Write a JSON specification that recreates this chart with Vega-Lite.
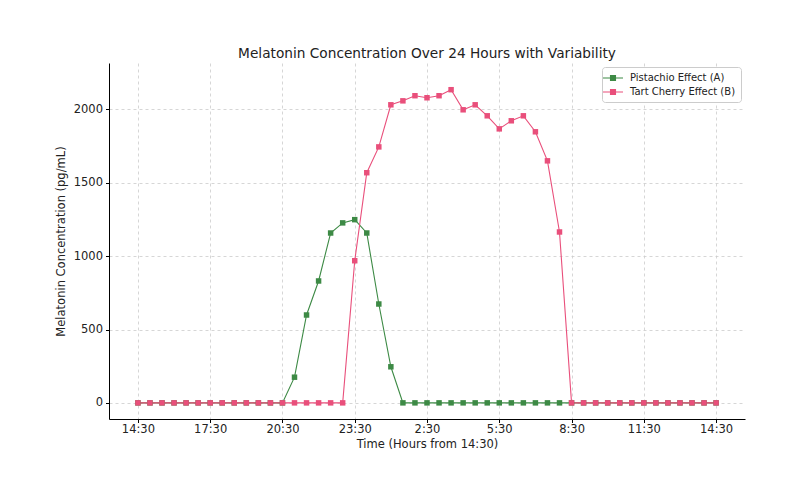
{
  "$schema": "https://vega.github.io/schema/vega-lite/v6.json",
  "autosize": {"type": "none"},
  "padding": {"left": 109, "top": 63, "right": 64, "bottom": 59},
  "width": 636,
  "height": 356,
  "background": "white",
  "config": {
    "font": "DejaVu Sans",
    "view": {"stroke": null},
    "axis": {
      "domainColor": "#000000",
      "domainWidth": 1,
      "tickColor": "#000000",
      "tickSize": 3.5,
      "labelFontSize": 11.5,
      "labelColor": "#222222",
      "titleFontSize": 11.5,
      "titleFontWeight": "normal",
      "titleColor": "#222222",
      "gridColor": "#cccccc",
      "gridDash": [3, 3],
      "gridWidth": 0.8
    }
  },
  "title": {
    "text": "Melatonin Concentration Over 24 Hours with Variability",
    "fontSize": 13.7,
    "fontWeight": "normal",
    "color": "#222222",
    "offset": 2,
    "anchor": "middle"
  },
  "data": {
    "values": [
      {"h": 0, "series": "Pistachio Effect (A)", "value": 0},
      {"h": 0.5, "series": "Pistachio Effect (A)", "value": 0},
      {"h": 1, "series": "Pistachio Effect (A)", "value": 0},
      {"h": 1.5, "series": "Pistachio Effect (A)", "value": 0},
      {"h": 2, "series": "Pistachio Effect (A)", "value": 0},
      {"h": 2.5, "series": "Pistachio Effect (A)", "value": 0},
      {"h": 3, "series": "Pistachio Effect (A)", "value": 0},
      {"h": 3.5, "series": "Pistachio Effect (A)", "value": 0},
      {"h": 4, "series": "Pistachio Effect (A)", "value": 0},
      {"h": 4.5, "series": "Pistachio Effect (A)", "value": 0},
      {"h": 5, "series": "Pistachio Effect (A)", "value": 0},
      {"h": 5.5, "series": "Pistachio Effect (A)", "value": 0},
      {"h": 6, "series": "Pistachio Effect (A)", "value": 0},
      {"h": 6.5, "series": "Pistachio Effect (A)", "value": 175},
      {"h": 7, "series": "Pistachio Effect (A)", "value": 599},
      {"h": 7.5, "series": "Pistachio Effect (A)", "value": 831},
      {"h": 8, "series": "Pistachio Effect (A)", "value": 1158},
      {"h": 8.5, "series": "Pistachio Effect (A)", "value": 1227},
      {"h": 9, "series": "Pistachio Effect (A)", "value": 1249},
      {"h": 9.5, "series": "Pistachio Effect (A)", "value": 1158},
      {"h": 10, "series": "Pistachio Effect (A)", "value": 674},
      {"h": 10.5, "series": "Pistachio Effect (A)", "value": 246},
      {"h": 11, "series": "Pistachio Effect (A)", "value": 0},
      {"h": 11.5, "series": "Pistachio Effect (A)", "value": 0},
      {"h": 12, "series": "Pistachio Effect (A)", "value": 0},
      {"h": 12.5, "series": "Pistachio Effect (A)", "value": 0},
      {"h": 13, "series": "Pistachio Effect (A)", "value": 0},
      {"h": 13.5, "series": "Pistachio Effect (A)", "value": 0},
      {"h": 14, "series": "Pistachio Effect (A)", "value": 0},
      {"h": 14.5, "series": "Pistachio Effect (A)", "value": 0},
      {"h": 15, "series": "Pistachio Effect (A)", "value": 0},
      {"h": 15.5, "series": "Pistachio Effect (A)", "value": 0},
      {"h": 16, "series": "Pistachio Effect (A)", "value": 0},
      {"h": 16.5, "series": "Pistachio Effect (A)", "value": 0},
      {"h": 17, "series": "Pistachio Effect (A)", "value": 0},
      {"h": 17.5, "series": "Pistachio Effect (A)", "value": 0},
      {"h": 18, "series": "Pistachio Effect (A)", "value": 0},
      {"h": 18.5, "series": "Pistachio Effect (A)", "value": 0},
      {"h": 19, "series": "Pistachio Effect (A)", "value": 0},
      {"h": 19.5, "series": "Pistachio Effect (A)", "value": 0},
      {"h": 20, "series": "Pistachio Effect (A)", "value": 0},
      {"h": 20.5, "series": "Pistachio Effect (A)", "value": 0},
      {"h": 21, "series": "Pistachio Effect (A)", "value": 0},
      {"h": 21.5, "series": "Pistachio Effect (A)", "value": 0},
      {"h": 22, "series": "Pistachio Effect (A)", "value": 0},
      {"h": 22.5, "series": "Pistachio Effect (A)", "value": 0},
      {"h": 23, "series": "Pistachio Effect (A)", "value": 0},
      {"h": 23.5, "series": "Pistachio Effect (A)", "value": 0},
      {"h": 24, "series": "Pistachio Effect (A)", "value": 0},
      {"h": 0, "series": "Tart Cherry Effect (B)", "value": 0},
      {"h": 0.5, "series": "Tart Cherry Effect (B)", "value": 0},
      {"h": 1, "series": "Tart Cherry Effect (B)", "value": 0},
      {"h": 1.5, "series": "Tart Cherry Effect (B)", "value": 0},
      {"h": 2, "series": "Tart Cherry Effect (B)", "value": 0},
      {"h": 2.5, "series": "Tart Cherry Effect (B)", "value": 0},
      {"h": 3, "series": "Tart Cherry Effect (B)", "value": 0},
      {"h": 3.5, "series": "Tart Cherry Effect (B)", "value": 0},
      {"h": 4, "series": "Tart Cherry Effect (B)", "value": 0},
      {"h": 4.5, "series": "Tart Cherry Effect (B)", "value": 0},
      {"h": 5, "series": "Tart Cherry Effect (B)", "value": 0},
      {"h": 5.5, "series": "Tart Cherry Effect (B)", "value": 0},
      {"h": 6, "series": "Tart Cherry Effect (B)", "value": 0},
      {"h": 6.5, "series": "Tart Cherry Effect (B)", "value": 0},
      {"h": 7, "series": "Tart Cherry Effect (B)", "value": 0},
      {"h": 7.5, "series": "Tart Cherry Effect (B)", "value": 0},
      {"h": 8, "series": "Tart Cherry Effect (B)", "value": 0},
      {"h": 8.5, "series": "Tart Cherry Effect (B)", "value": 0},
      {"h": 9, "series": "Tart Cherry Effect (B)", "value": 969},
      {"h": 9.5, "series": "Tart Cherry Effect (B)", "value": 1569},
      {"h": 10, "series": "Tart Cherry Effect (B)", "value": 1745},
      {"h": 10.5, "series": "Tart Cherry Effect (B)", "value": 2032},
      {"h": 11, "series": "Tart Cherry Effect (B)", "value": 2059},
      {"h": 11.5, "series": "Tart Cherry Effect (B)", "value": 2094},
      {"h": 12, "series": "Tart Cherry Effect (B)", "value": 2080},
      {"h": 12.5, "series": "Tart Cherry Effect (B)", "value": 2094},
      {"h": 13, "series": "Tart Cherry Effect (B)", "value": 2135},
      {"h": 13.5, "series": "Tart Cherry Effect (B)", "value": 1998},
      {"h": 14, "series": "Tart Cherry Effect (B)", "value": 2032},
      {"h": 14.5, "series": "Tart Cherry Effect (B)", "value": 1957},
      {"h": 15, "series": "Tart Cherry Effect (B)", "value": 1868},
      {"h": 15.5, "series": "Tart Cherry Effect (B)", "value": 1923},
      {"h": 16, "series": "Tart Cherry Effect (B)", "value": 1957},
      {"h": 16.5, "series": "Tart Cherry Effect (B)", "value": 1848},
      {"h": 17, "series": "Tart Cherry Effect (B)", "value": 1650},
      {"h": 17.5, "series": "Tart Cherry Effect (B)", "value": 1165},
      {"h": 18, "series": "Tart Cherry Effect (B)", "value": 0},
      {"h": 18.5, "series": "Tart Cherry Effect (B)", "value": 0},
      {"h": 19, "series": "Tart Cherry Effect (B)", "value": 0},
      {"h": 19.5, "series": "Tart Cherry Effect (B)", "value": 0},
      {"h": 20, "series": "Tart Cherry Effect (B)", "value": 0},
      {"h": 20.5, "series": "Tart Cherry Effect (B)", "value": 0},
      {"h": 21, "series": "Tart Cherry Effect (B)", "value": 0},
      {"h": 21.5, "series": "Tart Cherry Effect (B)", "value": 0},
      {"h": 22, "series": "Tart Cherry Effect (B)", "value": 0},
      {"h": 22.5, "series": "Tart Cherry Effect (B)", "value": 0},
      {"h": 23, "series": "Tart Cherry Effect (B)", "value": 0},
      {"h": 23.5, "series": "Tart Cherry Effect (B)", "value": 0},
      {"h": 24, "series": "Tart Cherry Effect (B)", "value": 0}
    ]
  },
  "mark": {
    "type": "line",
    "strokeWidth": 1.1,
    "point": {"shape": "square", "size": 30, "filled": true, "opacity": 1}
  },
  "encoding": {
    "x": {
      "field": "h",
      "type": "quantitative",
      "title": "Time (Hours from 14:30)",
      "scale": {"domain": [-1.2, 25.2], "nice": false, "zero": false},
      "axis": {
        "values": [0, 3, 6, 9, 12, 15, 18, 21, 24],
        "labelExpr": "((14 + datum.value) % 24) + ':30'",
        "labelPadding": 0.5,
        "titlePadding": 4
      }
    },
    "y": {
      "field": "value",
      "type": "quantitative",
      "title": "Melatonin Concentration (pg/mL)",
      "scale": {"domain": [-110, 2317], "nice": false, "zero": false},
      "axis": {
        "values": [0, 500, 1000, 1500, 2000],
        "format": "d",
        "labelPadding": 3,
        "titlePadding": 7
      }
    },
    "color": {
      "field": "series",
      "type": "nominal",
      "title": null,
      "scale": {
        "domain": ["Pistachio Effect (A)", "Tart Cherry Effect (B)"],
        "range": ["#3d8a45", "#e94f7b"]
      },
      "legend": {
        "orient": "top-right",
        "offset": 4,
        "padding": 5,
        "rowPadding": 3,
        "strokeColor": "#cccccc",
        "fillColor": "white",
        "cornerRadius": 3,
        "labelFontSize": 10,
        "labelColor": "#222222",
        "symbolType": "M-2,0H2M-0.5,-0.5H0.5V0.5H-0.5Z",
        "symbolSize": 100,
        "symbolStrokeWidth": 1.1,
        "labelOffset": 11,
        "encode": {
          "symbols": {
            "update": {
              "fill": {"scale": "color", "field": "value"},
              "stroke": {"scale": "color", "field": "value"},
              "opacity": {"value": 1}
            }
          }
        }
      }
    }
  }
}
